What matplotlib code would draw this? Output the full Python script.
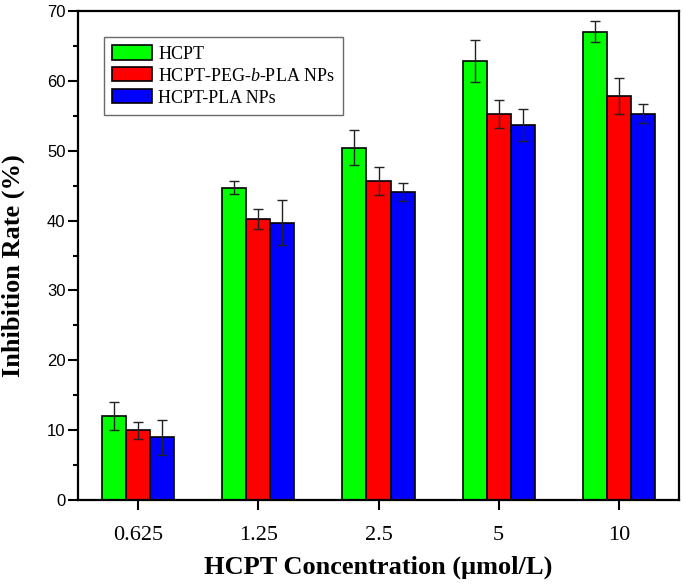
import matplotlib
matplotlib.use("Agg")
import matplotlib.pyplot as plt
import numpy as np
from matplotlib.ticker import MultipleLocator

plt.rcParams["mathtext.fontset"] = "custom"
plt.rcParams["mathtext.rm"] = "Liberation Serif"
plt.rcParams["mathtext.it"] = "Liberation Serif:italic"

categories = ["0.625", "1.25", "2.5", "5", "10"]
series_names = ["HCPT", "HCPT-PEG-$\\mathit{b}$-PLA NPs", "HCPT-PLA NPs"]
hcpt = [12.0, 44.7, 50.4, 62.9, 67.0]
hcpt_err = [2.0, 0.9, 2.5, 3.0, 1.5]
peg = [10.0, 40.2, 45.6, 55.3, 57.8]
peg_err = [1.2, 1.4, 2.0, 2.0, 2.6]
pla = [9.0, 39.7, 44.1, 53.7, 55.3]
pla_err = [2.5, 3.2, 1.3, 2.3, 1.4]
colors = ["#00FF00", "#FF0000", "#0000FF"]

serif = "Liberation Serif"
sans = "Liberation Sans"

fig = plt.figure(figsize=(6.85, 5.84), dpi=100)
ax = fig.add_axes([78/685, 1-500/584, (679-78)/685, (500-11)/584])

x = np.arange(len(categories))
w = 0.2
data = [(hcpt, hcpt_err), (peg, peg_err), (pla, pla_err)]
for i, ((vals, errs), c, name) in enumerate(zip(data, colors, series_names)):
    ax.bar(x + (i-1)*w, vals, w, color=c, edgecolor="black", linewidth=1.2,
           label=name, zorder=2)
    ax.errorbar(x + (i-1)*w, vals, yerr=errs, fmt="none", ecolor="#222222",
                elinewidth=1.0, capsize=3.5, capthick=1.0, zorder=3)

ax.set_xlim(-0.5, 4.5)
ax.set_ylim(0, 70)
ax.set_xticks(x)
ax.set_xticklabels(categories, fontfamily=serif, fontsize=16)
ax.yaxis.set_major_locator(MultipleLocator(10))
ax.yaxis.set_minor_locator(MultipleLocator(5))
for lab in ax.get_yticklabels():
    lab.set_fontfamily(sans)
    lab.set_fontsize(12)
ax.tick_params(axis="y", which="major", direction="out", length=7, width=1.5, pad=2)
ax.tick_params(axis="y", which="minor", direction="out", length=3.5, width=1.5)
ax.tick_params(axis="x", which="major", direction="out", length=7, width=1.5, pad=12)
for s in ax.spines.values():
    s.set_linewidth(1.6)

ax.set_ylabel("Inhibition Rate (%)", fontfamily=serif, fontweight="bold",
              fontsize=19)
ax.yaxis.set_label_coords(-0.088, 0.48)
ax.set_xlabel("HCPT Concentration (\u03bcmol/L)", fontfamily=serif,
              fontweight="bold", fontsize=19, labelpad=7)

leg = ax.legend(loc="upper left", bbox_to_anchor=((104-78)/601, (500-37)/489),
                prop={"family": serif, "size": 13}, frameon=True, fancybox=False,
                edgecolor="#444444", handlelength=2.2, handleheight=0.85,
                borderpad=0.45, labelspacing=0.25, handletextpad=0.35,
                borderaxespad=0)
leg.get_frame().set_linewidth(1.0)

fig.savefig("out.png", dpi=100)
